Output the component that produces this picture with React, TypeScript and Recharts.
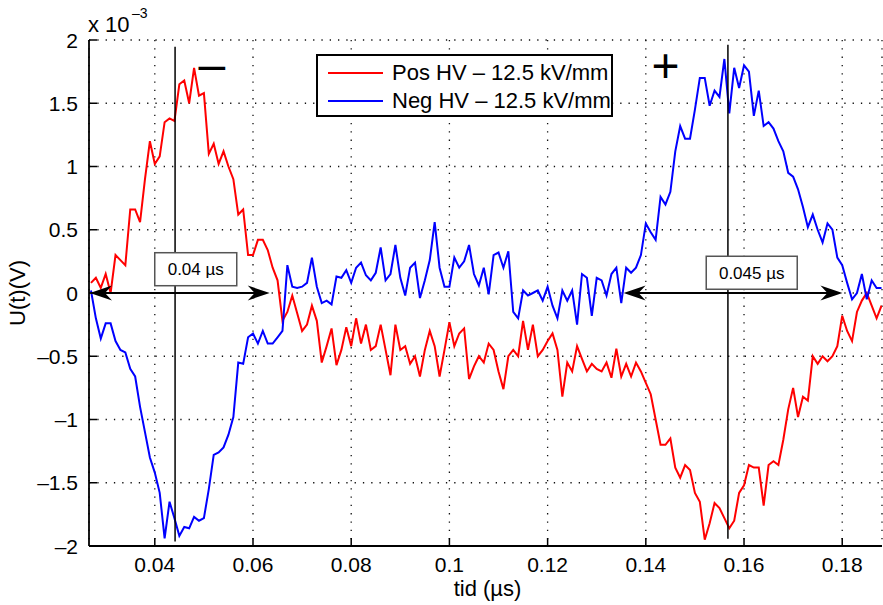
import React from 'react';
import {
  LineChart,
  Line,
  XAxis,
  YAxis,
  CartesianGrid,
  ReferenceLine,
  ReferenceDot,
  Legend,
} from 'recharts';

const FONT = '"Liberation Sans", Arial, Helvetica, sans-serif';

// time axis (µs)
const tid = [
  0.027, 0.028, 0.029, 0.03, 0.031, 0.032, 0.033, 0.034, 0.035, 0.036,
  0.037, 0.038, 0.039, 0.04, 0.041, 0.042, 0.043, 0.044, 0.045, 0.046,
  0.047, 0.048, 0.049, 0.05, 0.051, 0.052, 0.053, 0.054, 0.055, 0.056,
  0.057, 0.058, 0.059, 0.06, 0.061, 0.062, 0.063, 0.064, 0.065, 0.066,
  0.067, 0.068, 0.069, 0.07, 0.071, 0.072, 0.073, 0.074, 0.075, 0.076,
  0.077, 0.078, 0.079, 0.08, 0.081, 0.082, 0.083, 0.084, 0.085, 0.086,
  0.087, 0.088, 0.089, 0.09, 0.091, 0.092, 0.093, 0.094, 0.095, 0.096,
  0.097, 0.098, 0.099, 0.1, 0.101, 0.102, 0.103, 0.104, 0.105, 0.106,
  0.107, 0.108, 0.109, 0.11, 0.111, 0.112, 0.113, 0.114, 0.115, 0.116,
  0.117, 0.118, 0.119, 0.12, 0.121, 0.122, 0.123, 0.124, 0.125, 0.126,
  0.127, 0.128, 0.129, 0.13, 0.131, 0.132, 0.133, 0.134, 0.135, 0.136,
  0.137, 0.138, 0.139, 0.14, 0.141, 0.142, 0.143, 0.144, 0.145, 0.146,
  0.147, 0.148, 0.149, 0.15, 0.151, 0.152, 0.153, 0.154, 0.155, 0.156,
  0.157, 0.158, 0.159, 0.16, 0.161, 0.162, 0.163, 0.164, 0.165, 0.166,
  0.167, 0.168, 0.169, 0.17, 0.171, 0.172, 0.173, 0.174, 0.175, 0.176,
  0.177, 0.178, 0.179, 0.18, 0.181, 0.182, 0.183, 0.184, 0.185, 0.186,
  0.187, 0.188,
];

// U(t) in units of 1e-3 V
const posHV = [
  0.08, 0.12, 0.04, 0.15, 0.0, 0.3, 0.26, 0.22, 0.66, 0.66,
  0.56, 0.9, 1.2, 1.02, 1.08, 1.35, 1.38, 1.36, 1.65, 1.68,
  1.5, 1.78, 1.56, 1.58, 1.1, 1.18, 1.02, 1.12, 1.0, 0.9,
  0.62, 0.66, 0.3, 0.3, 0.42, 0.42, 0.34, 0.2, 0.1, -0.22,
  -0.15, -0.02, -0.16, -0.3, -0.25, -0.1, -0.22, -0.55, -0.42, -0.28,
  -0.57, -0.45, -0.27, -0.42, -0.2, -0.4, -0.25, -0.45, -0.42, -0.25,
  -0.45, -0.65, -0.25, -0.45, -0.42, -0.56, -0.5, -0.66, -0.45, -0.3,
  -0.42, -0.66, -0.45, -0.23, -0.42, -0.32, -0.28, -0.68, -0.58, -0.5,
  -0.55, -0.4, -0.45, -0.62, -0.76, -0.5, -0.45, -0.5, -0.22, -0.45,
  -0.25, -0.5, -0.45, -0.38, -0.32, -0.45, -0.82, -0.55, -0.62, -0.42,
  -0.52, -0.62, -0.56, -0.6, -0.62, -0.55, -0.67, -0.44, -0.66, -0.56,
  -0.66, -0.55, -0.62, -0.71, -0.8, -1.0, -1.2, -1.2, -1.15, -1.38,
  -1.46, -1.36, -1.4, -1.58, -1.65, -1.95, -1.82, -1.66, -1.7, -1.78,
  -1.86, -1.8, -1.58, -1.52, -1.36, -1.38, -1.38, -1.68, -1.36, -1.33,
  -1.36, -1.16, -0.92, -0.75, -0.98, -0.82, -0.85, -0.5, -0.56, -0.5,
  -0.54, -0.5, -0.42, -0.18, -0.3, -0.38, -0.15, -0.06, 0.0, -0.1,
  -0.2, -0.1,
];

const negHV = [
  0.02, -0.2, -0.36, -0.24, -0.24, -0.38, -0.45, -0.47, -0.6, -0.66,
  -0.9, -1.1, -1.3, -1.42, -1.58, -1.94, -1.65, -1.78, -1.92, -1.85,
  -1.86, -1.77, -1.8, -1.78, -1.55, -1.28, -1.26, -1.22, -1.12, -0.98,
  -0.55, -0.56, -0.35, -0.32, -0.4, -0.3, -0.4, -0.4, -0.35, -0.3,
  0.22, 0.05, 0.04, 0.05, 0.08, 0.28, 0.05, -0.08, -0.06, -0.09,
  0.13, 0.12, 0.18, 0.08, 0.2, 0.24, 0.14, 0.1, 0.16, 0.36,
  0.1, 0.15, 0.38, 0.12, -0.02, 0.2, 0.24, -0.04, 0.1, 0.26,
  0.56, 0.2, 0.05, 0.05, 0.28, 0.2, 0.25, 0.38, 0.15, 0.06,
  0.2, -0.01, 0.3, 0.32, 0.2, 0.33, -0.15, -0.2, 0.02, -0.02,
  0.0, 0.02, -0.06, 0.05, -0.1, -0.2, 0.02, -0.06, 0.02, -0.25,
  0.15, 0.12, -0.18, 0.12, 0.1, -0.02, 0.15, 0.2, -0.08, 0.2,
  0.16, 0.2, 0.3, 0.55, 0.48, 0.42, 0.76, 0.7, 0.8, 1.12,
  1.32, 1.22, 1.22, 1.45, 1.7, 1.7, 1.48, 1.6, 1.55, 1.85,
  1.42, 1.78, 1.62, 1.8, 1.75, 1.4, 1.6, 1.32, 1.35, 1.3,
  1.2, 1.12, 0.95, 0.92, 0.82, 0.68, 0.52, 0.62, 0.5, 0.4,
  0.55, 0.5, 0.28, 0.22, 0.08, -0.05, 0.0, 0.15, -0.05, 0.1,
  0.04, 0.04,
];

const xTicks = [0.04, 0.06, 0.08, 0.1, 0.12, 0.14, 0.16, 0.18];
const yTicks = [-2, -1.5, -1, -0.5, 0, 0.5, 1, 1.5, 2];

const data = tid.map((t, i) => ({ t, pos: posHV[i], neg: negHV[i] }));

const fmtY = (v: number) => (v < 0 ? '\u2013' + String(Math.abs(v)) : String(v));

const XTick = (props: any) => {
  const { x, y, payload } = props;
  return (
    <g>
      <line x1={x} x2={x} y1={y - 10} y2={y - 18} stroke="#000" strokeWidth={1.5} />
      <text x={x} y={y + 16} textAnchor="middle" fontSize={21} fontFamily={FONT} fill="#000">
        {String(payload.value)}
      </text>
    </g>
  );
};

const YTick = (props: any) => {
  const { x, y, payload } = props;
  return (
    <g>
      <line x1={x + 10} x2={x + 18} y1={y} y2={y} stroke="#000" strokeWidth={1.5} />
      <text x={x - 1} y={y + 7.5} textAnchor="end" fontSize={21} fontFamily={FONT} fill="#000">
        {fmtY(payload.value)}
      </text>
    </g>
  );
};

const XLabel = (props: any) => {
  const vb = props.viewBox;
  return (
    <text x={vb.x + vb.width / 2 + 2} y={vb.y + 50} textAnchor="middle" fontSize={22} fontFamily={FONT} fill="#000">
      tid (µs)
    </text>
  );
};

const YLabel = (props: any) => {
  const vb = props.viewBox;
  const cx = vb.x + 25;
  const cy = vb.y + vb.height / 2;
  return (
    <text x={cx} y={cy} textAnchor="middle" fontSize={22} fontFamily={FONT} fill="#000" transform={`rotate(-90, ${cx}, ${cy})`}>
      U(t)(V)
    </text>
  );
};

const Arrow = (props: any) => {
  const { x1, y1, x2, y2 } = props;
  const head = (tx: number, dir: number) =>
    `${tx},${y1} ${tx + dir * 22},${y1 - 7.5} ${tx + dir * 15},${y1} ${tx + dir * 22},${y1 + 7.5}`;
  return (
    <g>
      <line x1={x1 + 6} x2={x2 - 6} y1={y1} y2={y2} stroke="#000" strokeWidth={2} />
      <polygon points={head(x1, 1)} fill="#000" />
      <polygon points={head(x2, -1)} fill="#000" />
    </g>
  );
};

const boxLabel = (text: string, w: number) => (props: any) => {
  const { cx, cy } = props;
  return (
    <g>
      <rect x={cx - w / 2} y={cy - 16.5} width={w} height={33} fill="#fff" stroke="#555" strokeWidth={1.5} />
      <text x={cx} y={cy + 6} textAnchor="middle" fontSize={17} fontFamily={FONT} fill="#000">
        {text}
      </text>
    </g>
  );
};

const signMark = (text: string) => (props: any) => {
  const { cx, cy } = props;
  return (
    <text x={cx} y={cy + 17} textAnchor="middle" fontSize={48} fontFamily={FONT} fill="#000">
      {text}
    </text>
  );
};

const LegendBox = () => (
  <div
    style={{
      width: 293,
      height: 59,
      border: '2px solid #000',
      background: '#fff',
      fontFamily: FONT,
      fontSize: 22,
      color: '#000',
      position: 'relative',
    }}
  >
    {[
      { name: 'Pos HV \u2013 12.5 kV/mm', color: '#ff0000', top: 4 },
      { name: 'Neg HV \u2013 12.5 kV/mm', color: '#0000ff', top: 32 },
    ].map((item) => (
      <div key={item.name} style={{ position: 'absolute', left: 0, top: item.top, height: 26, display: 'flex', alignItems: 'center' }}>
        <div style={{ width: 55, height: 2, background: item.color, marginLeft: 10, marginRight: 9 }} />
        <span style={{ whiteSpace: 'nowrap', lineHeight: '26px' }}>{item.name}</span>
      </div>
    ))}
  </div>
);

export default function App() {
  return (
    <div style={{ position: 'absolute', left: 0, top: 0, width: 883, height: 605, background: '#fff' }}>
      <LineChart width={883} height={605} data={data} margin={{ top: 40, right: 1, bottom: 0, left: 0 }}>
        <CartesianGrid stroke="#111" strokeWidth={1.3} strokeDasharray="1.3 7" />
        <XAxis
          type="number"
          dataKey="t"
          domain={[0.0266, 0.1881]}
          allowDataOverflow
          ticks={xTicks}
          interval={0}
          tickSize={0}
          tickMargin={10}
          tickLine={false}
          tick={<XTick />}
          axisLine={{ stroke: '#000', strokeWidth: 1.8 }}
          height={59}
          label={{ content: XLabel }}
        />
        <YAxis
          type="number"
          domain={[-2, 2]}
          allowDataOverflow
          ticks={yTicks}
          interval={0}
          tickSize={0}
          tickMargin={10}
          tickLine={false}
          tick={<YTick />}
          axisLine={{ stroke: '#000', strokeWidth: 1.8 }}
          width={89}
          label={{ content: YLabel }}
        />
        <Legend
          layout="vertical"
          align="center"
          verticalAlign="middle"
          content={<LegendBox />}
          wrapperStyle={{ left: 316, top: 54, width: 297, height: 63 }}
        />
        <Line
          type="linear"
          dataKey="pos"
          name="Pos HV – 12.5 kV/mm"
          stroke="#ff0000"
          strokeWidth={2}
          dot={false}
          isAnimationActive={false}
        />
        <Line
          type="linear"
          dataKey="neg"
          name="Neg HV – 12.5 kV/mm"
          stroke="#0000ff"
          strokeWidth={2}
          dot={false}
          isAnimationActive={false}
        />
        <ReferenceLine segment={[{ x: 0.04413, y: 1.947 }, { x: 0.04413, y: -1.964 }]} stroke="#000" strokeWidth={1.5} />
        <ReferenceLine segment={[{ x: 0.15672, y: 1.963 }, { x: 0.15672, y: -1.942 }]} stroke="#000" strokeWidth={1.5} />
        <ReferenceLine segment={[{ x: 0.0268, y: 0 }, { x: 0.0634, y: 0 }]} shape={Arrow} />
        <ReferenceLine segment={[{ x: 0.13548, y: 0 }, { x: 0.18004, y: 0 }]} shape={Arrow} />
        <ReferenceDot x={0.04834} y={0.188} r={0} shape={boxLabel('0.04 µs', 82)} />
        <ReferenceDot x={0.16157} y={0.16} r={0} shape={boxLabel('0.045 µs', 91)} />
        <ReferenceDot x={0.0516} y={1.81} r={0} shape={signMark('\u2013')} />
        <ReferenceDot x={0.144} y={1.8} r={0} shape={signMark('+')} />
      </LineChart>
      <svg width={200} height={40} style={{ position: 'absolute', left: 0, top: 0 }}>
        <text x={88} y={32} fontSize={22} fontFamily={FONT} fill="#000">x 10</text>
        <text x={132} y={18} fontSize={14} fontFamily={FONT} fill="#000">{'\u2013'}3</text>
      </svg>
    </div>
  );
}
